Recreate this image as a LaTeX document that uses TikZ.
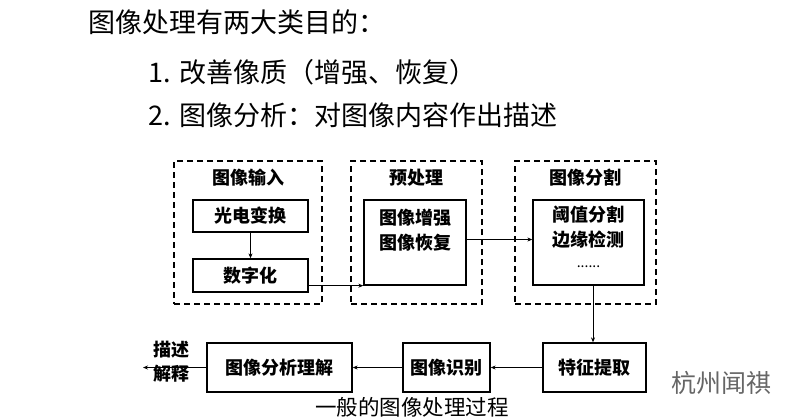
\documentclass[tikz,border=0pt]{standalone}
\usepackage{fontspec}
\newfontfamily\cjk{Noto Sans CJK SC}
\usetikzlibrary{arrows.meta}
\begin{document}
\begin{tikzpicture}[x=1pt,y=-1pt,
  solidbox/.style={draw=black,line width=1.3pt,minimum width=#1,inner sep=0pt},
  dashbox/.style={draw=black,line width=1.3pt,dash pattern=on 6pt off 4pt,inner sep=0pt},
  lbl/.style={font=\cjk\bfseries\fontsize{18}{21}\selectfont,inner sep=0pt,align=center},
  big/.style={font=\cjk\fontsize{27}{30}\selectfont,inner sep=0pt,anchor=west},
  arr/.style={line width=0.9pt,-{Stealth[length=5pt,width=4pt]}}]
\useasboundingbox[fill=white] (0,0) rectangle (792,418);
% title text
\node[big] (t1) at (88,22) {图像处理有两大类目的：};
\node[big] (t2) at (148,72) {1.\hspace{9pt}改善像质（增强、恢复）};
\node[big] (t3) at (148,115) {2.\hspace{9pt}图像分析：对图像内容作出描述};
% dashed groups
\node[dashbox,minimum width=148pt,minimum height=143pt] (d1) at (248,232.5) {};
\node[dashbox,minimum width=131pt,minimum height=143pt] (d2) at (416.5,232.5) {};
\node[dashbox,minimum width=141pt,minimum height=143pt] (d3) at (585.5,232.5) {};
\node[lbl] (h1) at (248,178) {图像输入};
\node[lbl] (h2) at (416.5,178) {预处理};
\node[lbl] (h3) at (585.5,178) {图像分割};
% inner boxes
\node[solidbox=115pt,minimum height=32pt,lbl] (gd) at (250.5,216) {光电变换};
\node[solidbox=115pt,minimum height=33pt,lbl] (sz) at (250.5,275.5) {数字化};
\node[solidbox=102pt,minimum height=85pt] (zq) at (415,242.5) {};
\node[lbl] (zqt) at (415,230.5) {图像增强\\[4pt]图像恢复};
\node[solidbox=111pt,minimum height=85pt] (yz) at (588.5,242.5) {};
\node[lbl] (yzt) at (588.5,227.5) {阈值分割\\[4pt]边缘检测};
\node[lbl,font=\cjk\fontsize{14}{16}\selectfont] (dots) at (588.5,267) {......};
% bottom row
\node[solidbox=103pt,minimum height=49pt,lbl] (tz) at (594.5,367.5) {特征提取};
\node[solidbox=87pt,minimum height=49pt,lbl] (sb) at (446.5,367.5) {图像识别};
\node[solidbox=145pt,minimum height=49pt,lbl] (fx) at (279.5,367.5) {图像分析理解};
\node[lbl] (ms) at (171,350) {描述};
\node[lbl] (js) at (171,374) {解释};
\coordinate (out) at (143,367.5);
% connectors
\draw[arr] (gd) -- (sz);
\draw[arr] (sz.east |- zq.south west) -- (zq.south west);
\draw[arr] ([yshift=3pt]zq.east) -- ([yshift=3pt]yz.west);
\draw[arr] ([xshift=4.5pt]yz.south) -- ([xshift=4.5pt]yz.south |- tz.north);
\draw[arr] (tz) -- (sb);
\draw[arr] (sb) -- (fx);
\draw[arr] (fx) -- (out);
% caption and watermark
\node[font=\cjk\fontsize{21.5}{24}\selectfont,inner sep=0pt] (cap) at (412,407) {一般的图像处理过程};
\node[font=\cjk\fontsize{25}{27}\selectfont,text=black!60,inner sep=0pt] (wm) at (721,383) {杭州闻祺};
\end{tikzpicture}
\end{document}
